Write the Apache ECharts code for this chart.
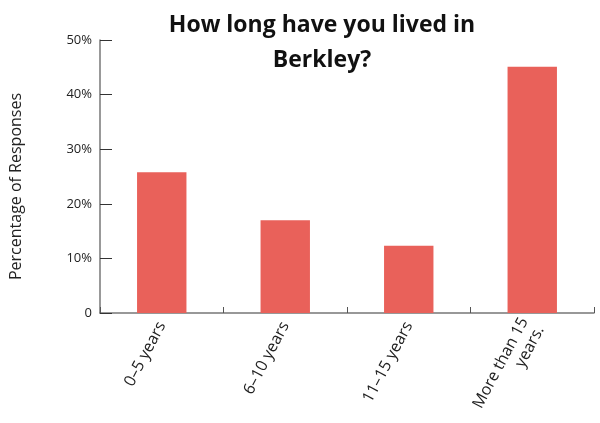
<!DOCTYPE html>
<html><head><meta charset="utf-8">
<script src="https://cdn.jsdelivr.net/npm/echarts@6/dist/echarts.min.js"></script>
<style>html,body{margin:0;padding:0;background:#fff}#c{width:600px;height:423px}</style>
</head><body><div id="c"></div>
<script>
var titleText = "How long have you lived in\nBerkley?";
var categories = ["0–5 years", "6–10 years", "11–15 years", "More than 15\nyears."];
var values = [25.8, 17.0, 12.3, 45.1];
var yTicks = [0, 10, 20, 30, 40, 50];
var yAxisName = "Percentage of Responses";

var chart = echarts.init(document.getElementById('c'), null, {renderer:'canvas'});
chart.setOption({
  animation:false,
  backgroundColor:'#fff',
  title:{text:titleText,left:317,top:3,textAlign:'center',
    textStyle:{fontFamily:'Open Sans',fontWeight:'bold',fontSize:23,color:'#111',lineHeight:35}},
  grid:{left:100,right:6,top:40,bottom:110,containLabel:false},
  xAxis:{type:'category',data:categories,
    axisLine:{lineStyle:{color:'#777',width:1.5}},
    axisTick:{show:true,inside:true,length:6,lineStyle:{color:'#555'}},
    axisLabel:{rotate:62,color:'#222',fontSize:16,fontFamily:'Open Sans',margin:10,lineHeight:18,interval:0}},
  yAxis:{type:'value',min:0,max:50,interval:10,
    name:yAxisName,nameLocation:'middle',nameGap:76,
    nameTextStyle:{fontSize:16,color:'#222',fontFamily:'Open Sans',padding:[0,0,0,-20]},
    axisLine:{show:true,lineStyle:{color:'#777',width:1.5}},
    axisTick:{show:true,inside:true,length:12,lineStyle:{color:'#333'}},
    splitLine:{show:false},
    axisLabel:{color:'#222',fontSize:13,fontFamily:'Open Sans',margin:8,
      formatter:function(v){return v===0?'0':v+'%';}}},
  series:[{type:'bar',data:values,barWidth:'40%',itemStyle:{color:'#E9615A'}}]
});
</script></body></html>
